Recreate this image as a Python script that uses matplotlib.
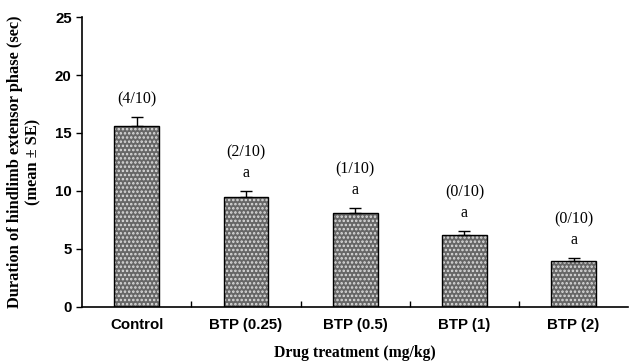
import numpy as np
import matplotlib
matplotlib.use("Agg")
import matplotlib.pyplot as plt

# data
groups = ["Control", "BTP (0.25)", "BTP (0.5)", "BTP (1)", "BTP (2)"]
means = [15.6, 9.5, 8.1, 6.2, 4.0]
errors = [0.8, 0.5, 0.45, 0.35, 0.25]
ratios = ["(4/10)", "(2/10)", "(1/10)", "(0/10)", "(0/10)"]
letters = ["", "a", "a", "a", "a"]

serif = "Liberation Serif"
sans = "Liberation Sans"
plt.rcParams["hatch.linewidth"] = 1.2

fig = plt.figure(figsize=(6.32, 3.62), dpi=100)
ax = fig.add_axes([0.13, 0.152, 0.864, 0.801])

x = np.arange(len(groups))
w = 0.41
# dotted fill: grey face with white dot hatch, then black outline on top
ax.bar(x, means, width=w, color="#666666", edgecolor="#dddddd", hatch="....",
       linewidth=0, zorder=2)
ax.bar(x, means, width=w, fill=False, edgecolor="black", linewidth=1.0, zorder=3)
ax.errorbar(x, means, yerr=[np.zeros(len(errors)), errors], fmt="none",
            ecolor="black", elinewidth=1.0, capsize=4, capthick=1.0, zorder=4)

for xi, m, e, r, l in zip(x, means, errors, ratios, letters):
    top = m + e
    if l:
        ax.text(xi, top + 1.55, l, ha="center", va="center", fontsize=11.5, family=serif)
        ax.text(xi, top + 3.3, r, ha="center", va="center", fontsize=11.5, family=serif)
    else:
        ax.text(xi, top + 1.5, r, ha="center", va="center", fontsize=11.5, family=serif)

ax.set_xlim(-0.5, 4.5)
ax.set_ylim(0, 25)
ax.set_yticks([0, 5, 10, 15, 20, 25])
ax.set_xticks(x)
ax.set_xticklabels(groups, fontsize=10.8, fontweight="bold", family=sans)
ax.set_xticks(x[:-1] + 0.5, minor=True)
ax.tick_params(axis="x", which="major", length=0, pad=8)
ax.tick_params(axis="x", which="minor", length=4, direction="in", width=1)
ax.tick_params(axis="y", length=4, width=1, labelsize=10.8)
for lab in ax.get_yticklabels():
    lab.set_fontweight("bold")
    lab.set_family(sans)

for s in ["top", "right"]:
    ax.spines[s].set_visible(False)
ax.spines["left"].set_linewidth(1.2)
ax.spines["bottom"].set_linewidth(1.2)

ax.set_ylabel("Duration of hindlimb extensor phase (sec)\n(mean \u00b1 SE)",
              fontsize=11.8, fontweight="bold", family=serif, labelpad=10)
ax.set_xlabel("Drug treatment (mg/kg)", fontsize=11.3, fontweight="bold",
              family=serif, labelpad=9)

fig.savefig("out.png", dpi=100)
